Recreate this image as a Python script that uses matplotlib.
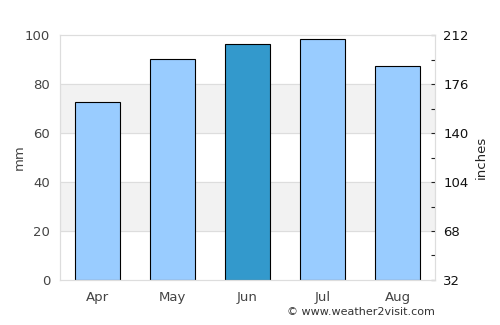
import matplotlib
matplotlib.use("Agg")
import numpy as np
import matplotlib.pyplot as plt

months = ['Apr', 'May', 'Jun', 'Jul', 'Aug']
rain_mm = [72.5, 90.2, 96.3, 98.4, 87.3]
bar_colors = ['#99ccff', '#99ccff', '#3399cc', '#99ccff', '#99ccff']
right_ticks = [32, 68, 104, 140, 176, 212]
right_minor = [50, 86, 122, 158, 194]

fig = plt.figure(figsize=(5, 3.25), dpi=100)
ax = fig.add_axes([0.12, 0.1385, 0.75, 0.7535])

# alternating grey bands
for lo, hi in [(20, 40), (60, 80)]:
    ax.axhspan(lo, hi, color='#f2f2f2', zorder=0)
for y in [20, 40, 60, 80]:
    ax.axhline(y, color='#dddddd', lw=0.8, zorder=0.5)

x = np.arange(len(months))
ax.bar(x, rain_mm, width=0.6, color=bar_colors, edgecolor='black', linewidth=0.8, zorder=2)

ax.set_xlim(-0.5, len(months) - 0.5)
ax.set_ylim(0, 100)
ax.set_yticks([0, 20, 40, 60, 80, 100])
ax.set_xticks(x)
ax.set_xticklabels(months)
ax.tick_params(axis='both', length=0, colors='#444444', labelsize=9.5, pad=8)
ax.tick_params(axis='y', pad=7)
ax.set_ylabel('mm', color='#444444', fontsize=9.5)
ax.yaxis.set_label_coords(-0.09, 0.5)
for s in ax.spines.values():
    s.set_color('#dddddd')

ax2 = ax.twinx()
ax2.set_ylim(32, 212)
ax2.set_yticks(right_ticks)
ax2.set_yticks(right_minor, minor=True)
ax2.tick_params(axis='y', which='both', direction='in', length=3, width=0.8,
                colors='#222222', labelsize=9.5, pad=6)
for lbl in ax2.get_yticklabels():
    lbl.set_color('#111111')
ax2.set_ylabel('inches', color='#222222', fontsize=9.5)
ax2.yaxis.set_label_coords(1.107, 0.5)
for s in ax2.spines.values():
    s.set_color('#dddddd')

fig.text(0.87, 0.025, '© www.weather2visit.com', ha='right', va='bottom', fontsize=8, color='#333333')

fig.savefig('out.png', dpi=100)
